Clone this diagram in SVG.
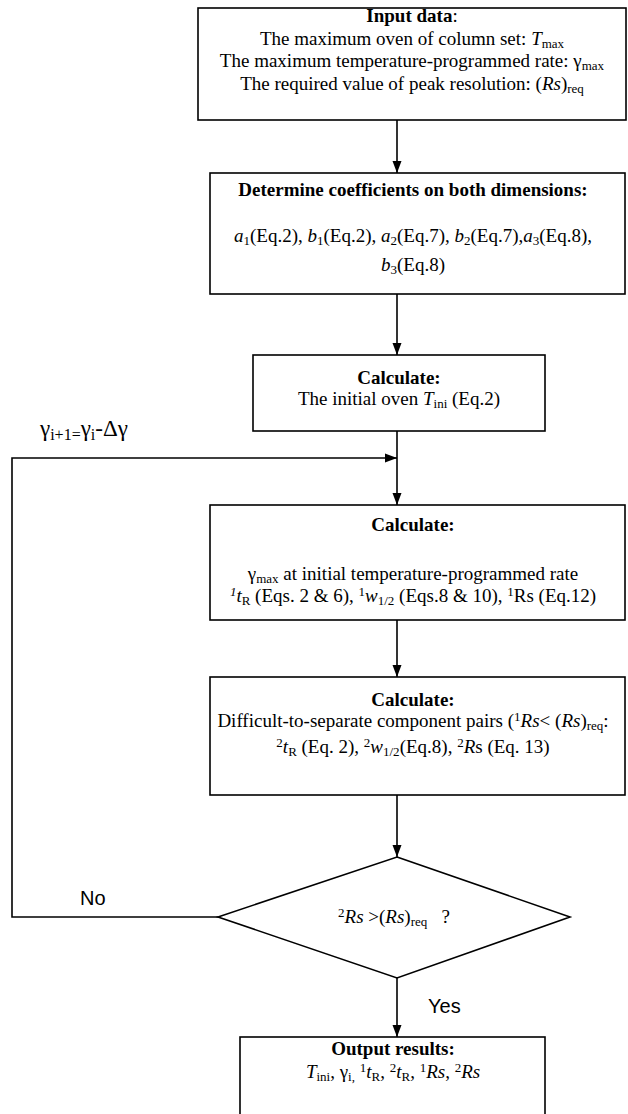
<svg xmlns="http://www.w3.org/2000/svg" width="628" height="1114" viewBox="0 0 628 1114">
<style>
.box{fill:#fff;stroke:#000;stroke-width:1.6}
.ln{fill:none;stroke:#000;stroke-width:1.6}
text{font-family:"Liberation Serif","Times New Roman",serif;font-size:19px;fill:#000}
.c{text-anchor:middle}
.b{font-weight:bold}
.i{font-style:italic}
.s{font-size:13px}
.sans{font-family:"Liberation Sans",Arial,sans-serif;font-size:20px}
.g{font-size:23px}
.gs{font-size:16px}
</style>
<defs>
<marker id="ahb" markerWidth="12" markerHeight="16" refX="16" refY="6" orient="auto" markerUnits="userSpaceOnUse" viewBox="0 0 16 12">
<path d="M0,0 L16,6 L0,12 Z" fill="#000"/>
</marker>
</defs>
<g id="connectors">
<line class="ln" x1="397" y1="120" x2="397" y2="173" marker-end="url(#ahb)"/>
<line class="ln" x1="397" y1="294" x2="397" y2="355" marker-end="url(#ahb)"/>
<line class="ln" x1="397" y1="431" x2="397" y2="505" marker-end="url(#ahb)"/>
<polyline class="ln" points="218,917 12,917 12,458 397,458" marker-end="url(#ahb)"/>
<line class="ln" x1="397" y1="620" x2="397" y2="677" marker-end="url(#ahb)"/>
<line class="ln" x1="397" y1="795" x2="397" y2="857" marker-end="url(#ahb)"/>
<line class="ln" x1="397" y1="978" x2="397" y2="1037" marker-end="url(#ahb)"/>
<text class="g" x="40" y="436">γ<tspan class="gs" dy="4">i+1=</tspan><tspan dy="-4">γ</tspan><tspan class="gs" dy="4">i</tspan><tspan dy="-4">-Δγ</tspan></text>
<text class="sans" x="80" y="905">No</text>
<text class="sans" x="428" y="1013">Yes</text>
</g>
<g id="input">
<rect class="box" x="198" y="8" width="428" height="112"/>
<text class="c" x="412" y="22"><tspan class="b">Input data</tspan>:</text>
<text class="c" x="412" y="45">The maximum oven of column set: <tspan class="i">T</tspan><tspan class="s" dy="3">max</tspan></text>
<text class="c" x="412" y="67">The maximum temperature-programmed rate: γ<tspan class="s" dy="3">max</tspan></text>
<text class="c" x="412" y="90">The required value of peak resolution: (<tspan class="i">Rs</tspan>)<tspan class="s" dy="3">req</tspan></text>
</g>
<g id="coeff">
<rect class="box" x="210" y="173" width="415" height="121"/>
<text class="c b" x="413" y="196">Determine coefficients on both dimensions:</text>
<text class="c" x="413" y="242"><tspan class="i">a</tspan><tspan class="s" dy="3">1</tspan><tspan dy="-3">(Eq.2), </tspan><tspan class="i">b</tspan><tspan class="s" dy="3">1</tspan><tspan dy="-3">(Eq.2), </tspan><tspan class="i">a</tspan><tspan class="s" dy="3">2</tspan><tspan dy="-3">(Eq.7), </tspan><tspan class="i">b</tspan><tspan class="s" dy="3">2</tspan><tspan dy="-3">(Eq.7),</tspan><tspan class="i">a</tspan><tspan class="s" dy="3">3</tspan><tspan dy="-3">(Eq.8),</tspan></text>
<text class="c" x="413" y="271"><tspan class="i">b</tspan><tspan class="s" dy="3">3</tspan><tspan dy="-3">(Eq.8)</tspan></text>
</g>
<g id="initial">
<rect class="box" x="253" y="355" width="292" height="76"/>
<text class="c b" x="399" y="384">Calculate:</text>
<text class="c" x="399" y="405">The initial oven <tspan class="i">T</tspan><tspan class="s" dy="3">ini</tspan><tspan dy="-3"> (Eq.2)</tspan></text>
</g>
<g id="rate">
<rect class="box" x="210" y="505" width="415" height="115"/>
<text class="c b" x="413" y="531">Calculate:</text>
<text class="c" x="413" y="580">γ<tspan class="s" dy="3">max</tspan><tspan dy="-3"> at initial temperature-programmed rate</tspan></text>
<text class="c" x="413" y="602"><tspan class="s i" dy="-6">1</tspan><tspan class="i" dy="6">t</tspan><tspan class="s" dy="3">R</tspan><tspan dy="-3"> (Eqs. 2 &amp; 6), </tspan><tspan class="s" dy="-6">1</tspan><tspan class="i" dy="6">w</tspan><tspan class="s" dy="3">1/2</tspan><tspan dy="-3"> (Eqs.8 &amp; 10), </tspan><tspan class="s" dy="-6">1</tspan><tspan dy="6">Rs (Eq.12)</tspan></text>
</g>
<g id="pairs">
<rect class="box" x="210" y="677" width="415" height="118"/>
<text class="c b" x="413" y="706">Calculate:</text>
<text class="c" x="413" y="727">Difficult-to-separate component pairs (<tspan class="s" dy="-6">1</tspan><tspan class="i" dy="6">Rs</tspan>&lt; (<tspan class="i">Rs</tspan>)<tspan class="s" dy="3">req</tspan><tspan dy="-3">:</tspan></text>
<text class="c" x="413" y="753"><tspan class="s" dy="-6">2</tspan><tspan class="i" dy="6">t</tspan><tspan class="s" dy="3">R</tspan><tspan dy="-3"> (Eq. 2), </tspan><tspan class="s" dy="-6">2</tspan><tspan class="i" dy="6">w</tspan><tspan class="s" dy="3">1/2</tspan><tspan dy="-3">(Eq.8), </tspan><tspan class="s" dy="-6">2</tspan><tspan class="i" dy="6">R</tspan>s (Eq. 13)</text>
</g>
<g id="decision">
<polygon class="box" points="397,857 570,917 397,978 218,917"/>
<text class="c" x="394" y="923"><tspan class="s" dy="-6">2</tspan><tspan class="i" dy="6">Rs</tspan> &gt;(<tspan class="i">Rs</tspan>)<tspan class="s" dy="3">req</tspan><tspan dy="-3">&#160;&#160; ?</tspan></text>
</g>
<g id="output">
<rect class="box" x="240" y="1037" width="305" height="90"/>
<text class="c b" x="393" y="1055">Output results:</text>
<text class="c" x="393" y="1078"><tspan class="i">T</tspan><tspan class="s" dy="3">ini</tspan><tspan dy="-3">, γ</tspan><tspan class="s" dy="3">i,</tspan><tspan dy="-3"> </tspan><tspan class="s" dy="-6">1</tspan><tspan class="i" dy="6">t</tspan><tspan class="s" dy="3">R</tspan><tspan dy="-3">, </tspan><tspan class="s" dy="-6">2</tspan><tspan class="i" dy="6">t</tspan><tspan class="s" dy="3">R</tspan><tspan dy="-3">, </tspan><tspan class="s" dy="-6">1</tspan><tspan class="i" dy="6">Rs</tspan>, <tspan class="s" dy="-6">2</tspan><tspan class="i" dy="6">Rs</tspan></text>
</g>
</svg>
